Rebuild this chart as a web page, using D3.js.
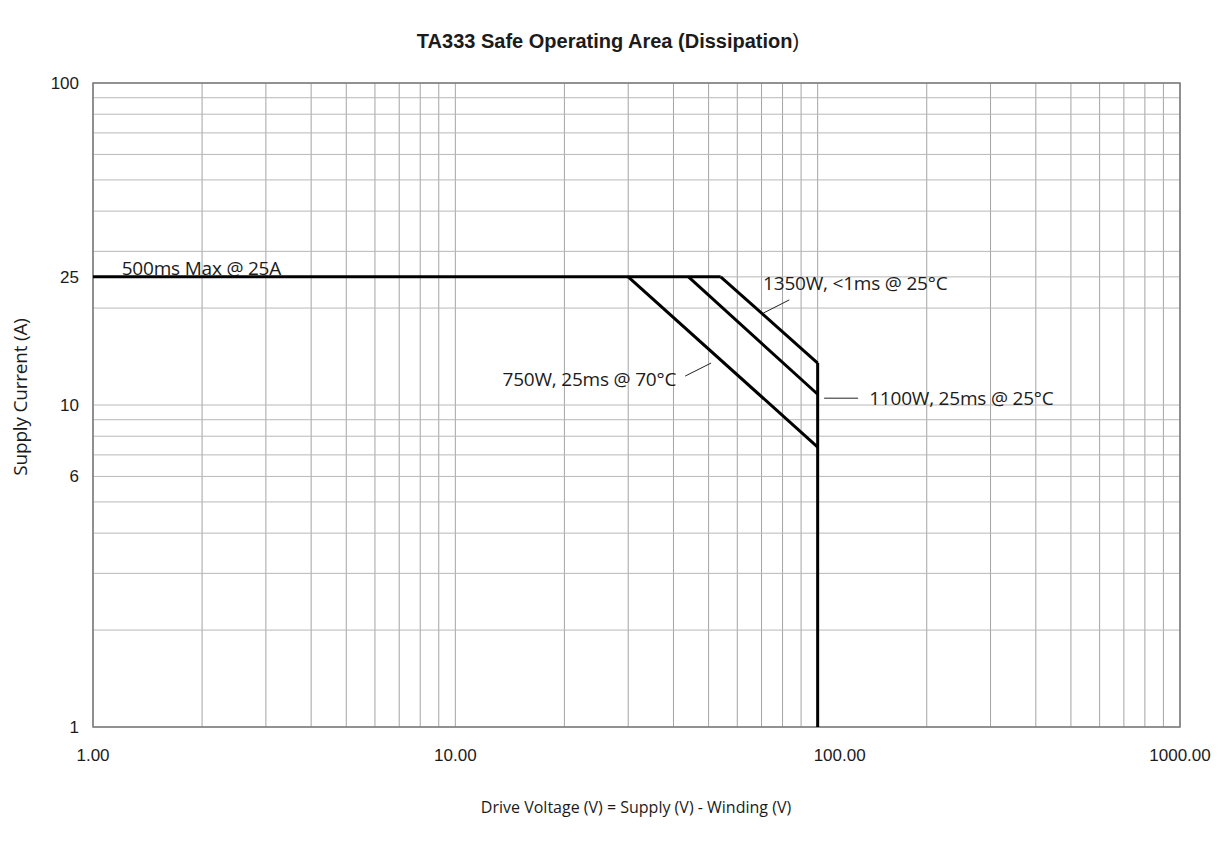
<!DOCTYPE html>
<html lang="en">
<head>
  <meta charset="utf-8">
  <title>TA333 Safe Operating Area</title>
<style>
body {
  margin: 0;
  background: #fff;
}
svg text {
  fill: #1b1b1b;
}
.tick-label {
  font: 17px "Liberation Sans", Arial, sans-serif;
}
.note {
  font: 19px "Open Sans", sans-serif;
  letter-spacing: -0.2px;
}
.x-title {
  font: 16px "Open Sans", sans-serif;
}
</style>
</head>
<body>
<div id="app"></div>
<script src="https://cdn.jsdelivr.net/npm/d3@7/dist/d3.min.js"></script>
<script>
// axis ticks / grid
const xLabelTicks = [1, 10, 100, 1000]
const yLabelTicks = [1, 6, 10, 25, 100]
const yGridValues = [1, 2, 3, 4, 5, 6, 7, 8, 9, 10, 20, 25, 30, 40, 50, 60, 70, 80, 90, 100]

// SOA limit curves (drive voltage V, supply current A)
const limit25A = [[1, 25], [54, 25]]
const curve1350W = [[54, 25], [100, 13.5]]
const curve1100W = [[44, 25], [100, 10.8]]
const curve750W = [[30, 25], [100, 7.4]]
const voltageLimit = [[100, 13.5], [100, 1]]

// annotations, anchored in data units
const noteTexts = ["500ms Max @ 25A", "1350W, <1ms @ 25°C", "750W, 25ms @ 70°C", "1100W, 25ms @ 25°C"]
const noteAnchors = [[1.2, 26.6], [70.7, 23.9], [40.7, 12.0], [138.7, 10.5]]
const noteAlign = ["start", "start", "end", "start"]
const leaders = [
  [[70.8, 19.3], [83.5, 21.2]],
  [[43.1, 12.3], [50.8, 13.5]],
  [[104.2, 10.5], [129.3, 10.5]]
]

const width = 1218, height = 842
const margin = {top: 83, right: 38, bottom: 115, left: 93}

const svg = d3.select("#app").append("svg")
    .attr("width", width)
    .attr("height", height)
    .attr("viewBox", [0, 0, width, height])

const x = d3.scaleLog()
    .domain([1, 1000])
    .range([margin.left, width - margin.right])
const y = d3.scaleLog()
    .domain([1, 100])
    .range([height - margin.bottom, margin.top])

// grid
svg.append("g")
  .selectAll("line")
  .data(x.ticks())
  .join("line")
    .attr("x1", d => x(d)).attr("x2", d => x(d))
    .attr("y1", y(1)).attr("y2", y(100))
    .attr("stroke", "#a4a4a4")
    .attr("stroke-width", 1)

svg.append("g")
  .selectAll("line")
  .data(yGridValues)
  .join("line")
    .attr("x1", x(1)).attr("x2", x(1000))
    .attr("y1", d => y(d)).attr("y2", d => y(d))
    .attr("stroke", "#b8b8b8")
    .attr("stroke-width", 1)

// frame
svg.append("rect")
    .attr("x", x(1))
    .attr("y", y(100))
    .attr("width", x(1000) - x(1))
    .attr("height", y(1) - y(100))
    .attr("fill", "none")
    .attr("stroke", "#7a7a7a")
    .attr("stroke-width", 1.5)

// tick labels
svg.append("g")
  .selectAll("text")
  .data(xLabelTicks)
  .join("text")
    .attr("class", "tick-label")
    .attr("x", d => x(d) + (d === 100 ? 22 : 0))
    .attr("y", y(1) + 34)
    .attr("text-anchor", "middle")
    .text(d3.format(".2f"))

svg.append("g")
  .selectAll("text")
  .data(yLabelTicks)
  .join("text")
    .attr("class", "tick-label")
    .attr("x", x(1) - 14)
    .attr("y", d => y(d) + 6)
    .attr("text-anchor", "end")
    .text(d => d)

// curves
const line = d3.line()
    .x(d => x(d[0]))
    .y(d => y(d[1]))

svg.append("g")
    .attr("fill", "none")
    .attr("stroke", "#000")
    .attr("stroke-width", 3)
    .attr("stroke-linejoin", "miter")
  .selectAll("path")
  .data([limit25A, curve1350W, curve1100W, curve750W, voltageLimit])
  .join("path")
    .attr("d", line)

// leader lines
svg.append("g")
    .attr("stroke", "#222")
    .attr("stroke-width", 1)
  .selectAll("line")
  .data(leaders)
  .join("line")
    .attr("x1", d => x(d[0][0])).attr("y1", d => y(d[0][1]))
    .attr("x2", d => x(d[1][0])).attr("y2", d => y(d[1][1]))

// notes
svg.append("g")
  .selectAll("text")
  .data(noteTexts)
  .join("text")
    .attr("class", "note")
    .attr("x", (d, i) => x(noteAnchors[i][0]))
    .attr("y", (d, i) => y(noteAnchors[i][1]))
    .attr("dy", "0.35em")
    .attr("text-anchor", (d, i) => noteAlign[i])
    .text(d => d)

// title
svg.append("text")
    .attr("x", 608)
    .attr("y", 48)
    .attr("text-anchor", "middle")
    .style("font", "bold 20px 'Liberation Sans', Arial, sans-serif")
    .text("TA333 Safe Operating Area (Dissipation")
  .append("tspan")
    .style("font-weight", "normal")
    .text(")")

// axis titles
svg.append("text")
    .attr("class", "note")
    .attr("transform", `translate(27,${(y(1) + y(100)) / 2 - 8}) rotate(-90)`)
    .attr("text-anchor", "middle")
    .text("Supply Current (A)")

svg.append("text")
    .attr("class", "x-title")
    .attr("x", 636)
    .attr("y", 813)
    .attr("text-anchor", "middle")
    .text("Drive Voltage (V) = Supply (V) - Winding (V)")
</script>
</body>
</html>
